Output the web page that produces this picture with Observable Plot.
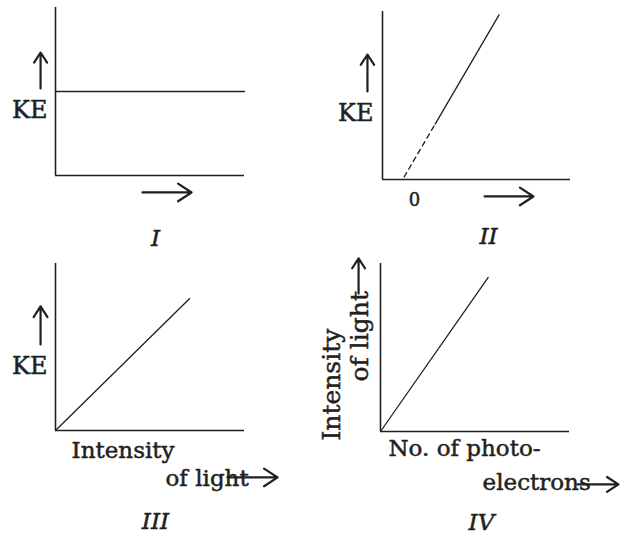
<!DOCTYPE html>
<html><head><meta charset="utf-8">
<script src="https://cdn.jsdelivr.net/npm/d3@7"></script>
<script src="https://cdn.jsdelivr.net/npm/@observablehq/plot@0.6"></script>
<style>
body{margin:0;background:#fff}
#wrap{position:relative;width:622px;height:537px;overflow:hidden}
.panel{position:absolute}
.panel svg{overflow:visible}
</style></head><body><div id="wrap"></div>
<script>
// ---------- data (all in each panel's own data units, axes run 0..10) ----------
const panelNames = ["I", "II", "III", "IV"];

// curves
const lineI = [{x: 0, y: 5}, {x: 10, y: 5}];
const lineIIDashed = [{x: 1.15, y: 0.15}, {x: 2.8, y: 3.3}];
const lineIISolid = [{x: 2.8, y: 3.3}, {x: 6.2, y: 9.8}];
const lineIII = [{x: 0, y: 0}, {x: 7.1, y: 7.9}];
const lineIV = [{x: 0, y: 0}, {x: 5.7, y: 9.17}];

// axis labels
const yLabelsI = [{x: -0.42, y: 3.89, text: "KE"}];
const yLabelsII = [{x: -0.48, y: 3.95, text: "KE"}];
const yLabelsIII = [{x: -0.42, y: 3.86, text: "KE"}];
const yLabelsIV = [{x: -2.59, y: -0.54, text: "Intensity"}, {x: -1.11, y: 2.98, text: "of light"}];
const xLabelsIII = [{x: 0.85, y: -1.2, text: "Intensity"}, {x: 5.82, y: -2.87, text: "of light"}];
const xLabelsIV = [{x: 0.42, y: -1.01, text: "No. of photo-"}, {x: 5.4, y: -3.04, text: "electrons"}];
const tickLabelsII = [{x: 1.7, y: -1.23, text: "0"}];

// direction arrows
const arrowsI = [{x1: -0.79, y1: 5.18, x2: -0.79, y2: 7.32}, {x1: 4.6, y1: -1.01, x2: 7.2, y2: -1.01}];
const arrowsII = [{x1: -0.8, y1: 5.24, x2: -0.8, y2: 7.44}, {x1: 5.43, y1: -1.01, x2: 8.03, y2: -1.01}];
const arrowsIII = [{x1: -0.79, y1: 5.15, x2: -0.79, y2: 7.43}, {x1: 9.1, y1: -2.81, x2: 11.75, y2: -2.81}];
const arrowsIV = [{x1: -1.16, y1: 8.21, x2: -1.16, y2: 10.3}, {x1: 10.42, y1: -3.15, x2: 12.59, y2: -3.15}];

// panel captions
const captionPos = [{x: 5.29, y: -3.75}, {x: 5.64, y: -3.39}, {x: 5.29, y: -5.48}, {x: 5.34, y: -5.4}];

// ---------- drawing ----------
const ink = "#231f20";
const font = "DejaVu Serif";

const panels = [
  {left: 0, top: 0, width: 311, height: 255, ml: 55, mr: 67, mt: 7, mb: 80,
   lines: [{data: lineI}], yl: yLabelsI, xl: [], ticks: [], arrows: arrowsI, rotY: false},
  {left: 311, top: 0, width: 311, height: 255, ml: 71, mr: 52, mt: 11, mb: 76,
   lines: [{data: lineIIDashed, dash: "5,4"}, {data: lineIISolid}], yl: yLabelsII, xl: [], ticks: tickLabelsII, arrows: arrowsII, rotY: false},
  {left: 0, top: 255, width: 311, height: 282, ml: 55, mr: 67, mt: 8, mb: 107,
   lines: [{data: lineIII}], yl: yLabelsIII, xl: xLabelsIII, ticks: [], arrows: arrowsIII, rotY: false},
  {left: 311, top: 255, width: 311, height: 282, ml: 69, mr: 53, mt: 8, mb: 106,
   lines: [{data: lineIV}], yl: yLabelsIV, xl: xLabelsIV, ticks: [], arrows: arrowsIV, rotY: true}
];

const textStyle = {fill: ink, stroke: ink, strokeWidth: 0.5};

const wrap = document.getElementById("wrap");
panels.forEach((p, i) => {
  const marks = [
    Plot.ruleX([0], {y1: 0, y2: 10, stroke: ink, strokeWidth: 1.6}),
    Plot.ruleY([0], {x1: 0, x2: 10, stroke: ink, strokeWidth: 1.6}),
    ...p.lines.map(l => Plot.line(l.data, {x: "x", y: "y", stroke: ink, strokeWidth: 1.3, strokeDasharray: l.dash})),
    Plot.arrow(p.arrows, {x1: "x1", y1: "y1", x2: "x2", y2: "y2", stroke: ink, strokeWidth: 2.2, headLength: 11, headAngle: 66}),
    p.rotY
      ? Plot.text(p.yl, {x: "x", y: "y", text: "text", rotate: -90, textAnchor: "start", fontSize: 25, ...textStyle})
      : Plot.text(p.yl, {x: "x", y: "y", text: "text", textAnchor: "end", fontSize: 24, ...textStyle}),
    Plot.text(p.xl, {x: "x", y: "y", text: "text", textAnchor: "start", fontSize: 23, ...textStyle}),
    Plot.text(p.ticks, {x: "x", y: "y", text: "text", fontSize: 18, ...textStyle}),
    Plot.text([captionPos[i]], {x: "x", y: "y", text: () => panelNames[i], fontSize: 23, fontStyle: "italic", ...textStyle})
  ];
  const svg = Plot.plot({
    width: p.width, height: p.height,
    marginLeft: p.ml, marginRight: p.mr, marginTop: p.mt, marginBottom: p.mb,
    x: {domain: [0, 10], axis: null},
    y: {domain: [0, 10], axis: null},
    style: {fontFamily: font, background: "transparent", overflow: "visible"},
    marks
  });
  const div = document.createElement("div");
  div.className = "panel";
  div.style.left = p.left + "px";
  div.style.top = p.top + "px";
  div.appendChild(svg);
  wrap.appendChild(div);
});
</script></body></html>
